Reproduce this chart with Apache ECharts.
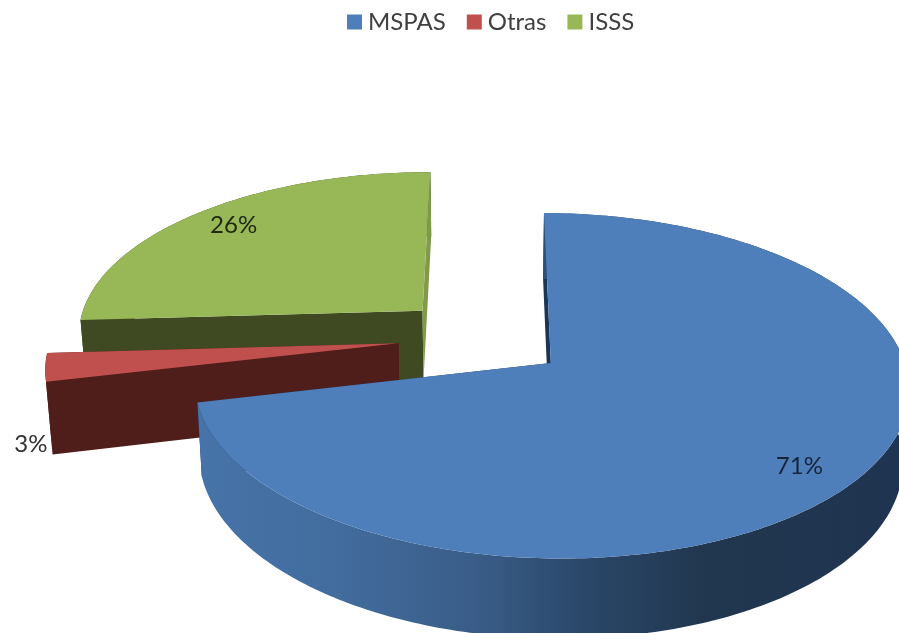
<!DOCTYPE html>
<html>
<head>
<meta charset="utf-8">
<style>html,body{margin:0;padding:0;background:#fff}#c{width:899px;height:633px}</style>
<script src="https://cdn.jsdelivr.net/npm/echarts@6/dist/echarts.min.js"></script>
</head>
<body>
<div id="c"></div>
<script>
var categories = ['MSPAS', 'Otras', 'ISSS'];
var values = [71.3, 2.7, 26];
var topColors = ['#4F7FBB', '#C0504D', '#98B858'];
var wallColors = ['#1A3556', '#4F1D1A', '#404A22'];
var endWallColors = ['#1A3556', '#4F1D1A', '#7F9A48'];
var labelColors = ['#16243A', '#333333', '#20290F'];
var drawOrder = [3, 2, 1];            // z per slice: blue in front, green at the back
var endWallInFront = [false, false, true];
var labelRadius = [0.82, 1.04, 0.84]; // label distance along the slice's middle direction
var labelDrop = [10, 76, -1];         // pixels under the top face

// the projection of the tilted pie
var CX = 483, CY = 337.5, RX = 347, RY = 163, PERSP = 0.13, DEPTH = 71, SHRINK = 0.985, EXPLODE = 0.245;
var START = 0.2 * Math.PI / 180;
var TAU = Math.PI * 2;
var total = values.reduce(function (a, b) { return a + b; }, 0);

function sliceAngles(i) {
  var before = 0;
  for (var k = 0; k < i; k++) before += values[k];
  var a0 = START + before / total * TAU;
  var a1 = a0 + values[i] / total * TAU;
  return [a0, a1, (a0 + a1) / 2];
}
function project(u, v, low) {
  var w = 1 + PERSP * v;
  var s = low ? SHRINK : 1;
  return [CX + s * RX * u / w, CY - s * RY * v / w + (low ? DEPTH / w : 0)];
}
function planePoint(i, angle, r) {
  var mid = sliceAngles(i)[2];
  return [EXPLODE * Math.sin(mid) + r * Math.sin(angle), EXPLODE * Math.cos(mid) + r * Math.cos(angle)];
}
function ringPoint(i, angle, r, low) {
  var p = planePoint(i, angle, r);
  return project(p[0], p[1], low);
}
function poly(points, fill) {
  return { type: 'polygon', shape: { points: points }, style: { fill: fill, stroke: null }, silent: true };
}
var blueRim = {
  type: 'linear', global: true, x: 200, y: 0, x2: 900, y2: 0,
  colorStops: [
    { offset: 0, color: '#4673A9' },
    { offset: 0.2, color: '#426C9D' },
    { offset: 0.4, color: '#395C87' },
    { offset: 0.55, color: '#2A4769' },
    { offset: 0.72, color: '#21374F' },
    { offset: 1, color: '#1F3450' }
  ]
};
function renderSlice(i) {
  return function () {
    var a = sliceAngles(i), n = Math.max(8, Math.ceil((a[1] - a[0]) * 60));
    var topArc = [], lowArc = [];
    for (var k = 0; k <= n; k++) {
      var t = a[0] + (a[1] - a[0]) * k / n;
      topArc.push(ringPoint(i, t, 1, false));
      lowArc.push(ringPoint(i, t, 1, true));
    }
    var apexTop = ringPoint(i, 0, 0, false), apexLow = ringPoint(i, 0, 0, true);
    var rimFill = i === 0 ? blueRim : wallColors[i];
    var rim = poly(topArc.concat(lowArc.slice().reverse()), rimFill);
    var startWall = poly([apexTop, topArc[0], lowArc[0], apexLow], wallColors[i]);
    var endWall = poly([apexTop, topArc[n], lowArc[n], apexLow], endWallColors[i]);
    var children = endWallInFront[i] ? [rim, startWall, endWall] : [endWall, startWall, rim];
    children.push(poly([apexTop].concat(topArc), topColors[i]));
    var p = planePoint(i, a[2], labelRadius[i]);
    var lp = project(p[0], p[1], false);
    children.push({
      type: 'text', silent: true, z2: 10,
      style: {
        x: lp[0], y: lp[1] + labelDrop[i],
        text: Math.round(values[i]) + '%', align: 'center', verticalAlign: 'middle',
        font: '24px Lato, "Open Sans", sans-serif', fill: labelColors[i]
      }
    });
    return { type: 'group', children: children };
  };
}
var chart = echarts.init(document.getElementById('c'), null, { renderer: 'canvas' });
chart.setOption({
  backgroundColor: '#ffffff',
  animation: false,
  legend: {
    data: categories,
    top: 5, left: 342,
    icon: 'rect', itemWidth: 15, itemHeight: 15, itemGap: 21,
    textStyle: { fontFamily: 'Lato, "Open Sans", sans-serif', fontSize: 24, color: '#404040', padding: [0, 0, 0, 1] }
  },
  series: categories.map(function (name, i) {
    return {
      type: 'custom', name: name, coordinateSystem: 'none', z: drawOrder[i],
      itemStyle: { color: topColors[i] },
      data: [values[i]],
      renderItem: renderSlice(i)
    };
  })
});
</script>
</body>
</html>
